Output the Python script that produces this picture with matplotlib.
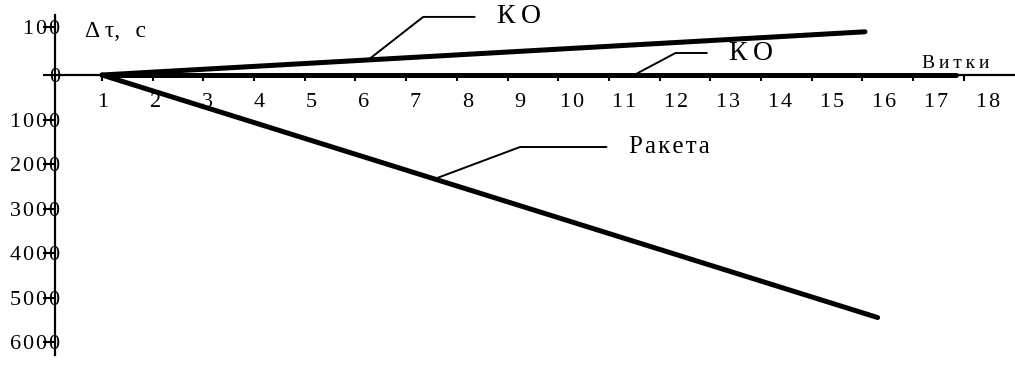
import numpy as np
import matplotlib
matplotlib.use("Agg")
import matplotlib.pyplot as plt

# data (orbit number -> delta tau, s)
vitki_ko = [1, 16.05]
dtau_ko = [0, 90]
vitki_ko2 = [1, 17.85]
dtau_ko2 = [0, 0]
vitki_raketa = [1, 16.3]
dtau_raketa = [0, -5450]

xticks = list(range(1, 19))
yticks = [100, 0, -1000, -2000, -3000, -4000, -5000, -6000]

plt.rcParams["font.family"] = ["Liberation Serif", "DejaVu Serif"]


def spaced(s, sep="\u200a"):
    return sep.join(s)


# upper part of the axis is drawn 10x stretched (100 s per step instead of 1000)
k = 48 / 44.5


def fwd(y):
    y = np.asarray(y, dtype=float)
    return np.where(y >= 0, y * k / 100, y / 1000)


def inv(u):
    u = np.asarray(u, dtype=float)
    return np.where(u >= 0, u * 100 / k, u * 1000)


fig = plt.figure(figsize=(10.15, 3.74), dpi=100)
ax = fig.add_axes([55 / 1015, 19 / 374, 960 / 1015, 340 / 374])
ax.set_yscale("function", functions=(fwd, inv))
ax.set_xlim(0.073, 19.01)
ax.set_ylim(-6292, 125)

lw = 3.6
ax.plot(vitki_ko, dtau_ko, color="black", lw=lw, solid_capstyle="round")
ax.plot(vitki_ko2, dtau_ko2, color="black", lw=lw, solid_capstyle="round")
ax.plot(vitki_raketa, dtau_raketa, color="black", lw=lw, solid_capstyle="round")

for s in ["top", "right"]:
    ax.spines[s].set_visible(False)
ax.spines["left"].set_linewidth(1.6)
ax.spines["bottom"].set_linewidth(1.6)
ax.spines["bottom"].set_position(("data", 0))

# x: tick marks at each orbit, labels drift a little to the right as in the scan
ax.set_xticks(xticks, minor=True)
ax.tick_params(axis="x", which="minor", direction="out", length=4.3, width=1.5)
lab_pos = [1.02 + (i - 1) * 1.027 for i in xticks]
ax.set_xticks(lab_pos)
ax.set_xticklabels([spaced(str(i)) for i in xticks], fontsize=16)
ax.tick_params(axis="x", which="major", length=0, pad=13)

ax.set_yticks(yticks)
ax.set_yticklabels([spaced(str(abs(v))) for v in yticks], fontsize=16)
ax.tick_params(axis="y", direction="out", length=8.6, width=1.5, pad=-12.5)
ax.yaxis.set_minor_locator(matplotlib.ticker.NullLocator())

ax.text(0.665, 89.6, "\u0394\u2009\u03c4,\u2009\u2009 c", fontsize=17, ha="left", va="center")
ax.text(17.17, 25, spaced("Витки", "\u2009"), fontsize=14, ha="left", va="center")

lead = dict(arrowstyle="-", color="black", lw=1.4, shrinkA=14, shrinkB=0,
            relpos=(0, 0.5))
ax.annotate(spaced("КО", "\u2009"), xy=(6.25, 31.4), xytext=(8.79, 121),
            fontsize=20, ha="left", va="center",
            arrowprops=dict(lead, connectionstyle="angle,angleA=0,angleB=38,rad=0"))
ax.annotate(spaced("КО", "\u2009"), xy=(11.55, 3), xytext=(13.37, 45.8),
            fontsize=20, ha="left", va="center",
            arrowprops=dict(lead, connectionstyle="angle,angleA=0,angleB=28,rad=0"))
ax.annotate(spaced("Ракета"), xy=(7.61, -2315), xytext=(11.39, -1618),
            fontsize=18, ha="left", va="center",
            arrowprops=dict(lead, connectionstyle="angle,angleA=0,angleB=20.5,rad=0"))

fig.savefig("out.png", dpi=100)
